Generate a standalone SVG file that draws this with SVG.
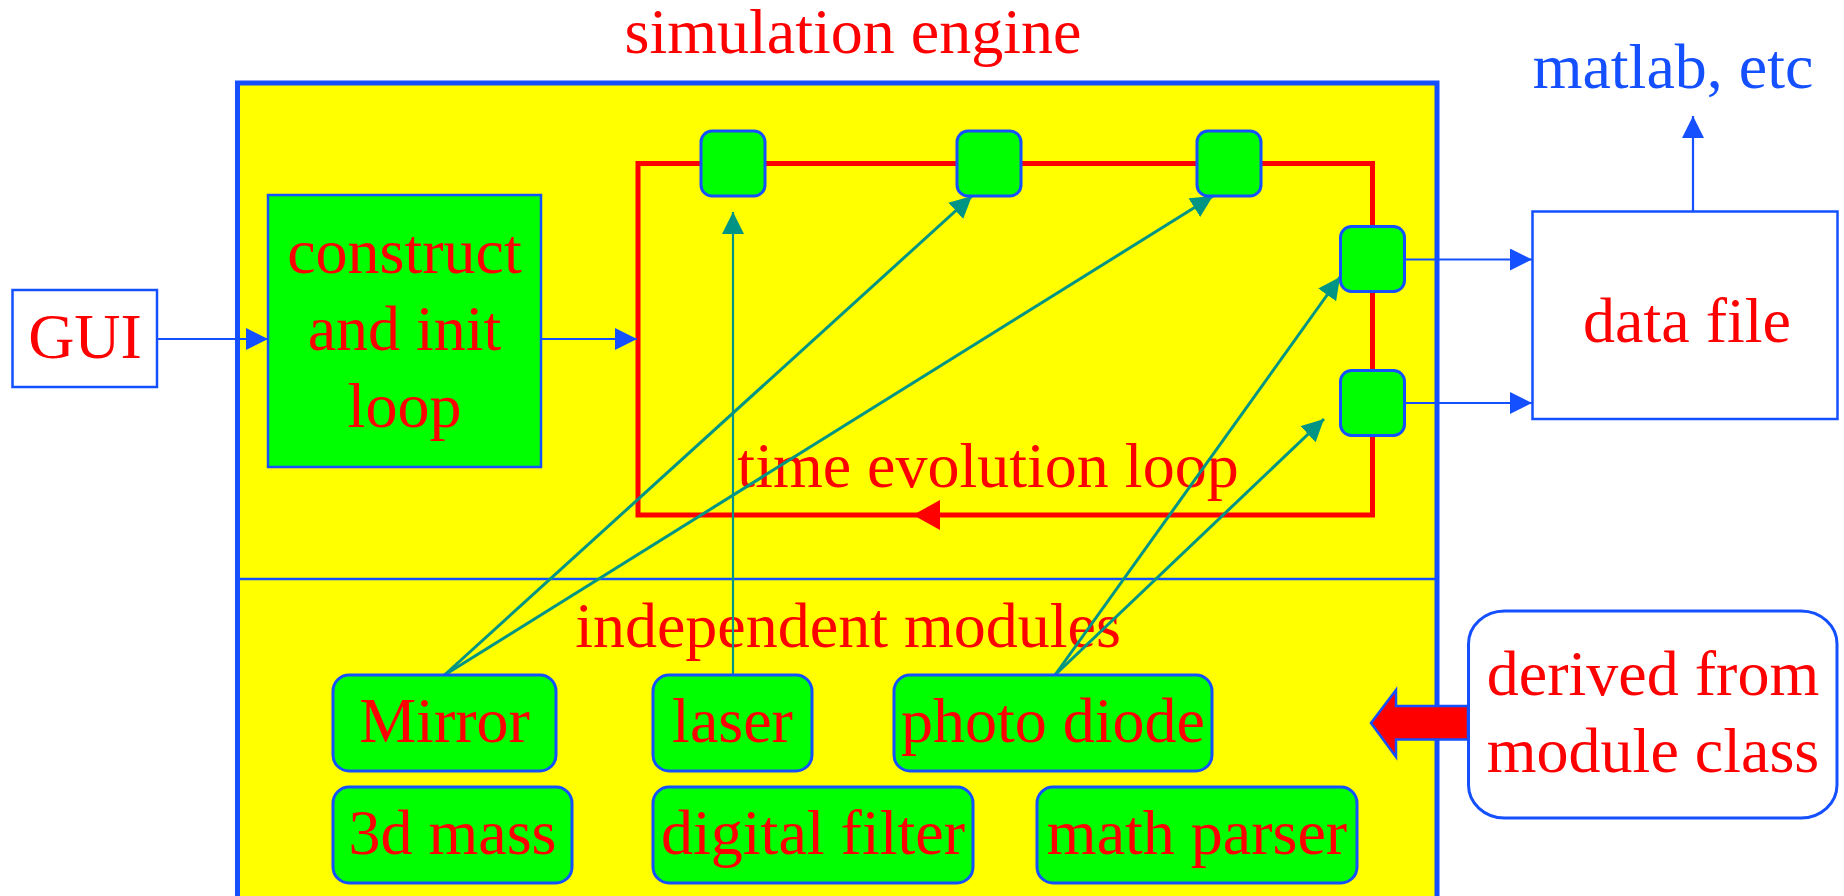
<svg xmlns="http://www.w3.org/2000/svg" width="1844" height="896" viewBox="0 0 1844 896">
<style>
text{font-family:"Liberation Serif","Times New Roman",serif;font-size:64px;fill:#ff0000;text-anchor:middle}
.blue{fill:#1450ff}
.mod{fill:#00ff00;stroke:#1450ff;stroke-width:3}
.port{fill:#00ff00;stroke:#1450ff;stroke-width:3}
.bl{stroke:#1450ff;stroke-width:2.2;fill:none}
.tl{stroke:#009485;stroke-width:3;fill:none}
</style>
<defs>
<marker id="ab" markerUnits="userSpaceOnUse" markerWidth="24" markerHeight="24" refX="22" refY="11" orient="auto"><path d="M0,0 L22,11 L0,22 z" fill="#1450ff"/></marker>
<marker id="at" markerUnits="userSpaceOnUse" markerWidth="24" markerHeight="24" refX="22" refY="11" orient="auto"><path d="M0,0 L22,11 L0,22 z" fill="#009485"/></marker>
</defs>

<g id="engine">
<rect x="237.5" y="83" width="1199.5" height="830" fill="#ffff00" stroke="#1450ff" stroke-width="5"/>
<line x1="237.5" y1="579" x2="1437" y2="579" stroke="#1450ff" stroke-width="2.5"/>
<text x="853" y="53">simulation engine</text>
<text x="848" y="647">independent modules</text>
</g>

<g id="loop">
<rect x="638" y="163.5" width="734.5" height="351.5" fill="none" stroke="#ff0000" stroke-width="5"/>
<polygon points="913,515 940,500 940,530" fill="#ff0000"/>
<text x="988" y="487">time evolution loop</text>
</g>

<g id="gui"><rect x="12.5" y="290" width="144.5" height="97" fill="#ffffff" stroke="#1450ff" stroke-width="2.5"/><text x="85" y="358">GUI</text></g>
<g id="construct"><rect x="268" y="195" width="273" height="272" fill="#00ff00" stroke="#1450ff" stroke-width="2.5"/><text x="404.5" y="273">construct</text><text x="404.5" y="350">and init</text><text x="404.5" y="427">loop</text></g>

<g id="datafile"><rect x="1532.5" y="211.5" width="305" height="207.5" fill="#ffffff" stroke="#1450ff" stroke-width="2.5"/><text x="1687" y="342">data file</text></g>
<g id="matlab"><text class="blue" x="1673" y="88">matlab, etc</text></g>
<g id="derived"><rect x="1468.5" y="611" width="368.5" height="207" rx="36" ry="33" fill="#ffffff" stroke="#1450ff" stroke-width="3"/><text x="1653" y="695">derived from</text><text x="1653" y="772">module class</text></g>

<g id="connectors">
<line class="bl" x1="157" y1="339" x2="268" y2="339" marker-end="url(#ab)"/>
<line class="bl" x1="541" y1="339" x2="637" y2="339" marker-end="url(#ab)"/>
<line class="bl" x1="1404" y1="259.5" x2="1532" y2="259.5" marker-end="url(#ab)"/>
<line class="bl" x1="1404" y1="403" x2="1532" y2="403" marker-end="url(#ab)"/>
<line class="bl" x1="1693" y1="211" x2="1693" y2="116" marker-end="url(#ab)"/>
<line class="tl" style="stroke-width:2.2" x1="733" y1="675" x2="733" y2="212" marker-end="url(#at)"/>
<line class="tl" x1="444.5" y1="675" x2="972" y2="196" marker-end="url(#at)"/>
<line class="tl" x1="444.5" y1="675" x2="1213" y2="196" marker-end="url(#at)"/>
<line class="tl" x1="1055" y1="675" x2="1340" y2="277" marker-end="url(#at)"/>
<line class="tl" x1="1055" y1="675" x2="1324" y2="419" marker-end="url(#at)"/>
<polygon points="1371,723 1396,690 1396,706 1468,706 1468,739.5 1396,739.5 1396,757" fill="#ff0000" stroke="#1450ff" stroke-width="2.5" stroke-linejoin="miter"/>
</g>

<g id="port1"><rect class="port" x="701" y="131" width="64" height="65" rx="11"/></g>
<g id="port2"><rect class="port" x="957" y="131" width="64" height="65" rx="11"/></g>
<g id="port3"><rect class="port" x="1197" y="131" width="64" height="65" rx="11"/></g>
<g id="port4"><rect class="port" x="1340.5" y="226.5" width="64" height="65" rx="11"/></g>
<g id="port5"><rect class="port" x="1340.5" y="370.5" width="64" height="65" rx="11"/></g>

<g id="mirror"><rect class="mod" x="333" y="675" width="223" height="96" rx="16"/><text x="444.5" y="742">Mirror</text></g>
<g id="laser"><rect class="mod" x="653" y="675" width="159" height="96" rx="16"/><text x="732.5" y="742">laser</text></g>
<g id="photodiode"><rect class="mod" x="894" y="675" width="318" height="96" rx="16"/><text x="1053" y="742">photo diode</text></g>
<g id="mass"><rect class="mod" x="333" y="787" width="239" height="96" rx="16"/><text x="452.5" y="854">3d mass</text></g>
<g id="filter"><rect class="mod" x="653" y="787" width="320" height="96" rx="16"/><text x="813" y="854">digital filter</text></g>
<g id="parser"><rect class="mod" x="1037" y="787" width="320" height="96" rx="16"/><text x="1197" y="854">math parser</text></g>
</svg>
